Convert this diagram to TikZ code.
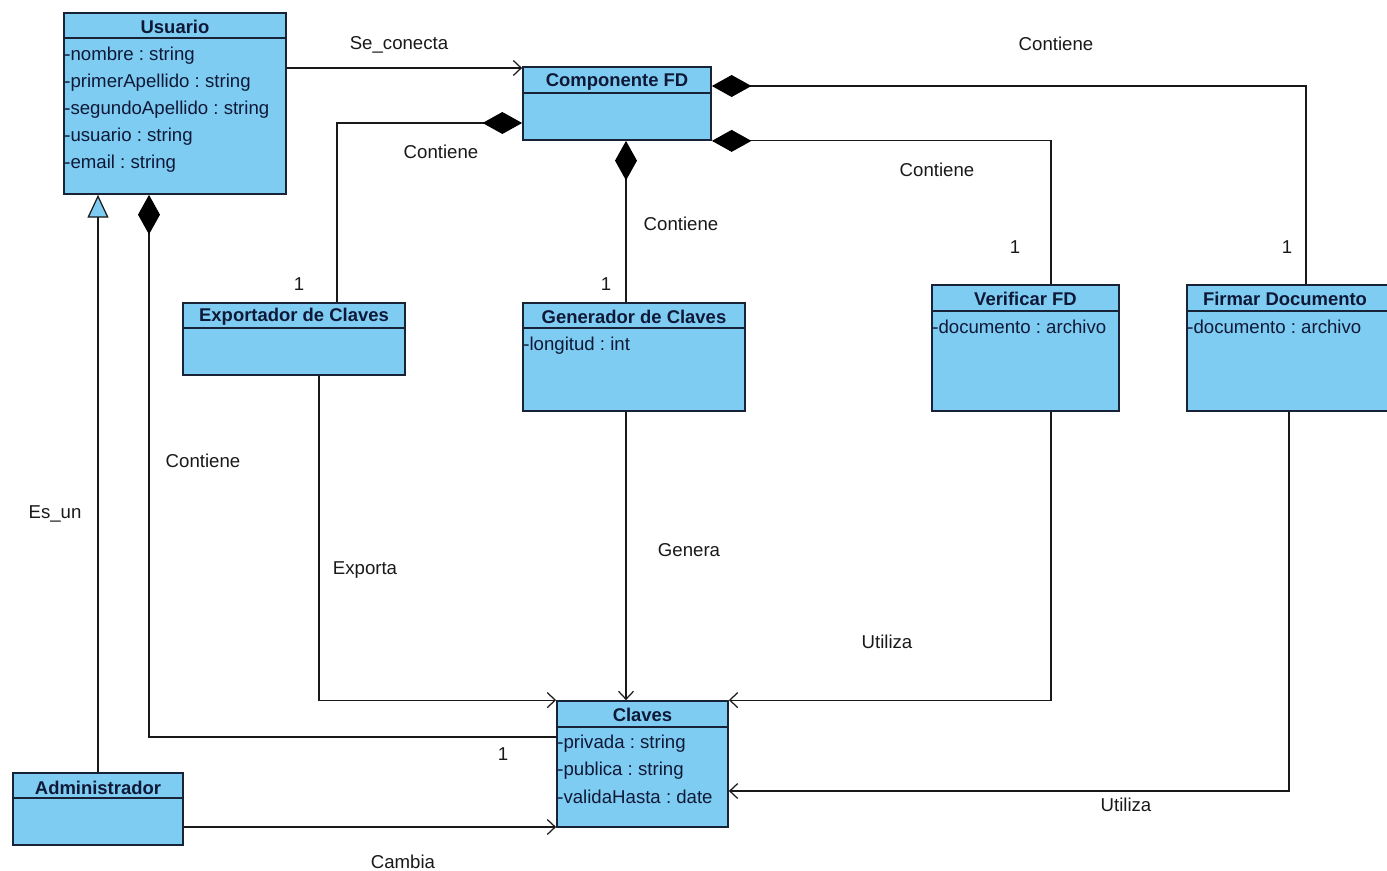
\documentclass[tikz,border=0pt]{standalone}
\usepackage{fontspec}
\setmainfont{Liberation Sans}
\usetikzlibrary{arrows.meta,fit}

\definecolor{classfill}{RGB}{126,204,242}
\definecolor{classline}{RGB}{25,35,55}
\definecolor{classtext}{RGB}{15,25,55}
\definecolor{linkcol}{RGB}{25,25,25}

\tikzset{
  umlbox/.style={draw=classline, line width=1pt, fill=classfill, inner sep=0pt},
  sepline/.style={draw=classline, line width=0.9pt},
  classtitle/.style={font=\fontsize{10.5}{12}\selectfont\bfseries, text=classtext, inner sep=0pt},
  attr/.style={font=\fontsize{10.6}{12}\selectfont, text=classtext, anchor=west, inner sep=0pt},
  lbl/.style={font=\fontsize{10.6}{12}\selectfont, text=linkcol, inner sep=0pt},
  link/.style={draw=linkcol, line width=0.7pt},
  navig/.style={link, -{Straight Barb[length=4.5pt,width=8.5pt]}},
  compos/.style={link, {Diamond[length=22.5pt,width=12.5pt,fill=black,color=black]}-},
  general/.style={link, {Triangle[open,length=13pt,width=12pt,fill=classfill]}-},
}

% class box: name, left, top, right, bottom, header rule, title y, title
\newcommand\umlclass[8]{%
  \node[umlbox, fit={(#2,#3) (#4,#5)}] (#1) {};
  \draw[sepline] (#2,#6) -- (#4,#6);
  \node[classtitle] (#1-title) at ({(#2+#4)/2},#7) {#8};
}

\begin{document}
\frenchspacing
\begin{tikzpicture}[x=0.02cm,y=-0.02cm]
  \clip (0,0) rectangle (1387,871);
  \fill[white] (0,0) rectangle (1387,871);

  % classes
  \umlclass{usuario}{64}{13}{286}{194}{38}{27}{Usuario}
  \node[attr] (u1) at (64,56)  {-nombre : string};
  \node[attr] (u2) at (64,83)  {-primerApellido : string};
  \node[attr] (u3) at (64,110) {-segundoApellido : string};
  \node[attr] (u4) at (64,137) {-usuario : string};
  \node[attr] (u5) at (64,164) {-email : string};

  \umlclass{comp}{523}{67}{711}{140}{93}{82}{Componente FD}

  \umlclass{export}{183}{303}{405}{375}{328}{317}{Exportador de Claves}

  \umlclass{gen}{523}{303}{745}{411}{328}{317}{Generador de Claves}
  \node[attr] (g1) at (523,346) {-longitud : int};

  \umlclass{verif}{932}{285}{1119}{411}{311}{299}{Verificar FD}
  \node[attr] (v1) at (932,327) {-documento : archivo};

  \umlclass{firmar}{1187}{285}{1394}{411}{311}{299}{}
  \node[classtitle] (firmar-name) at (1285,299) {Firmar Documento};
  \node[attr] (f1) at (1187,327) {-documento : archivo};

  \umlclass{claves}{557}{701}{728}{827}{727}{715}{Claves}
  \node[attr] (c1) at (557,744) {-privada : string};
  \node[attr] (c2) at (557,771) {-publica : string};
  \node[attr] (c3) at (557,797) {-validaHasta : date};

  \umlclass{admin}{13}{773}{183}{845}{798}{788}{Administrador}

  % routing rails
  \coordinate (rowConn) at (0,68);
  \coordinate (rowFirm) at (0,86);
  \coordinate (rowExp)  at (0,123);
  \coordinate (rowUsr)  at (0,737);
  \coordinate (rowUse)  at (0,791);
  \coordinate (rowCam)  at (0,827);
  \coordinate (colAdm)  at (98,0);
  \coordinate (colUsr)  at (149,0);
  \coordinate (colExpO) at (319,0);
  \coordinate (colExpI) at (337,0);
  \coordinate (colGen)  at (626,0);
  \coordinate (colVer)  at (1051,0);
  \coordinate (colFirU) at (1289,0);
  \coordinate (colFirC) at (1306,0);

  % associations
  \draw[navig] (usuario.east |- rowConn) -- (comp.west |- rowConn);
  \draw[compos] (comp.east |- rowFirm) -| (colFirC |- firmar.north);
  \draw[compos] (comp.south east) -| (colVer |- verif.north);
  \draw[compos] (comp.west |- rowExp) -| (colExpI |- export.north);
  \draw[compos] (colGen |- comp.south) -- (colGen |- gen.north);
  \draw[compos] (colUsr |- usuario.south) |- (claves.west |- rowUsr);
  \draw[general] (colAdm |- usuario.south) -- (colAdm |- admin.north);
  \draw[navig] (colExpO |- export.south) |- (claves.north west);
  \draw[navig] (colGen |- gen.south) -- (colGen |- claves.north);
  \draw[navig] (colVer |- verif.south) |- (claves.north east);
  \draw[navig] (colFirU |- firmar.south) |- (claves.east |- rowUse);
  \draw[navig] (admin.east |- rowCam) -- (claves.west |- rowCam);

  % association labels
  \node[lbl] (l1)  at (399,45)   {Se\_conecta};
  \node[lbl] (l2)  at (1056,44)  {Contiene};
  \node[lbl] (l3)  at (441,152)  {Contiene};
  \node[lbl] (l4)  at (937,170)  {Contiene};
  \node[lbl] (l5)  at (681,224)  {Contiene};
  \node[lbl] (l6)  at (203,461)  {Contiene};
  \node[lbl] (l7)  at (55,514)   {Es\_un};
  \node[lbl] (l8)  at (365,570)  {Exporta};
  \node[lbl] (l9)  at (689,550)  {Genera};
  \node[lbl] (l10) at (887,642)  {Utiliza};
  \node[lbl] (l11) at (1126,805) {Utiliza};
  \node[lbl] (l12) at (403,862)  {Cambia};

  % multiplicities
  \node[lbl] (m1) at (299,284)  {1};
  \node[lbl] (m2) at (606,284)  {1};
  \node[lbl] (m3) at (1015,247) {1};
  \node[lbl] (m4) at (1287,247) {1};
  \node[lbl] (m5) at (503,754)  {1};
\end{tikzpicture}
\end{document}
